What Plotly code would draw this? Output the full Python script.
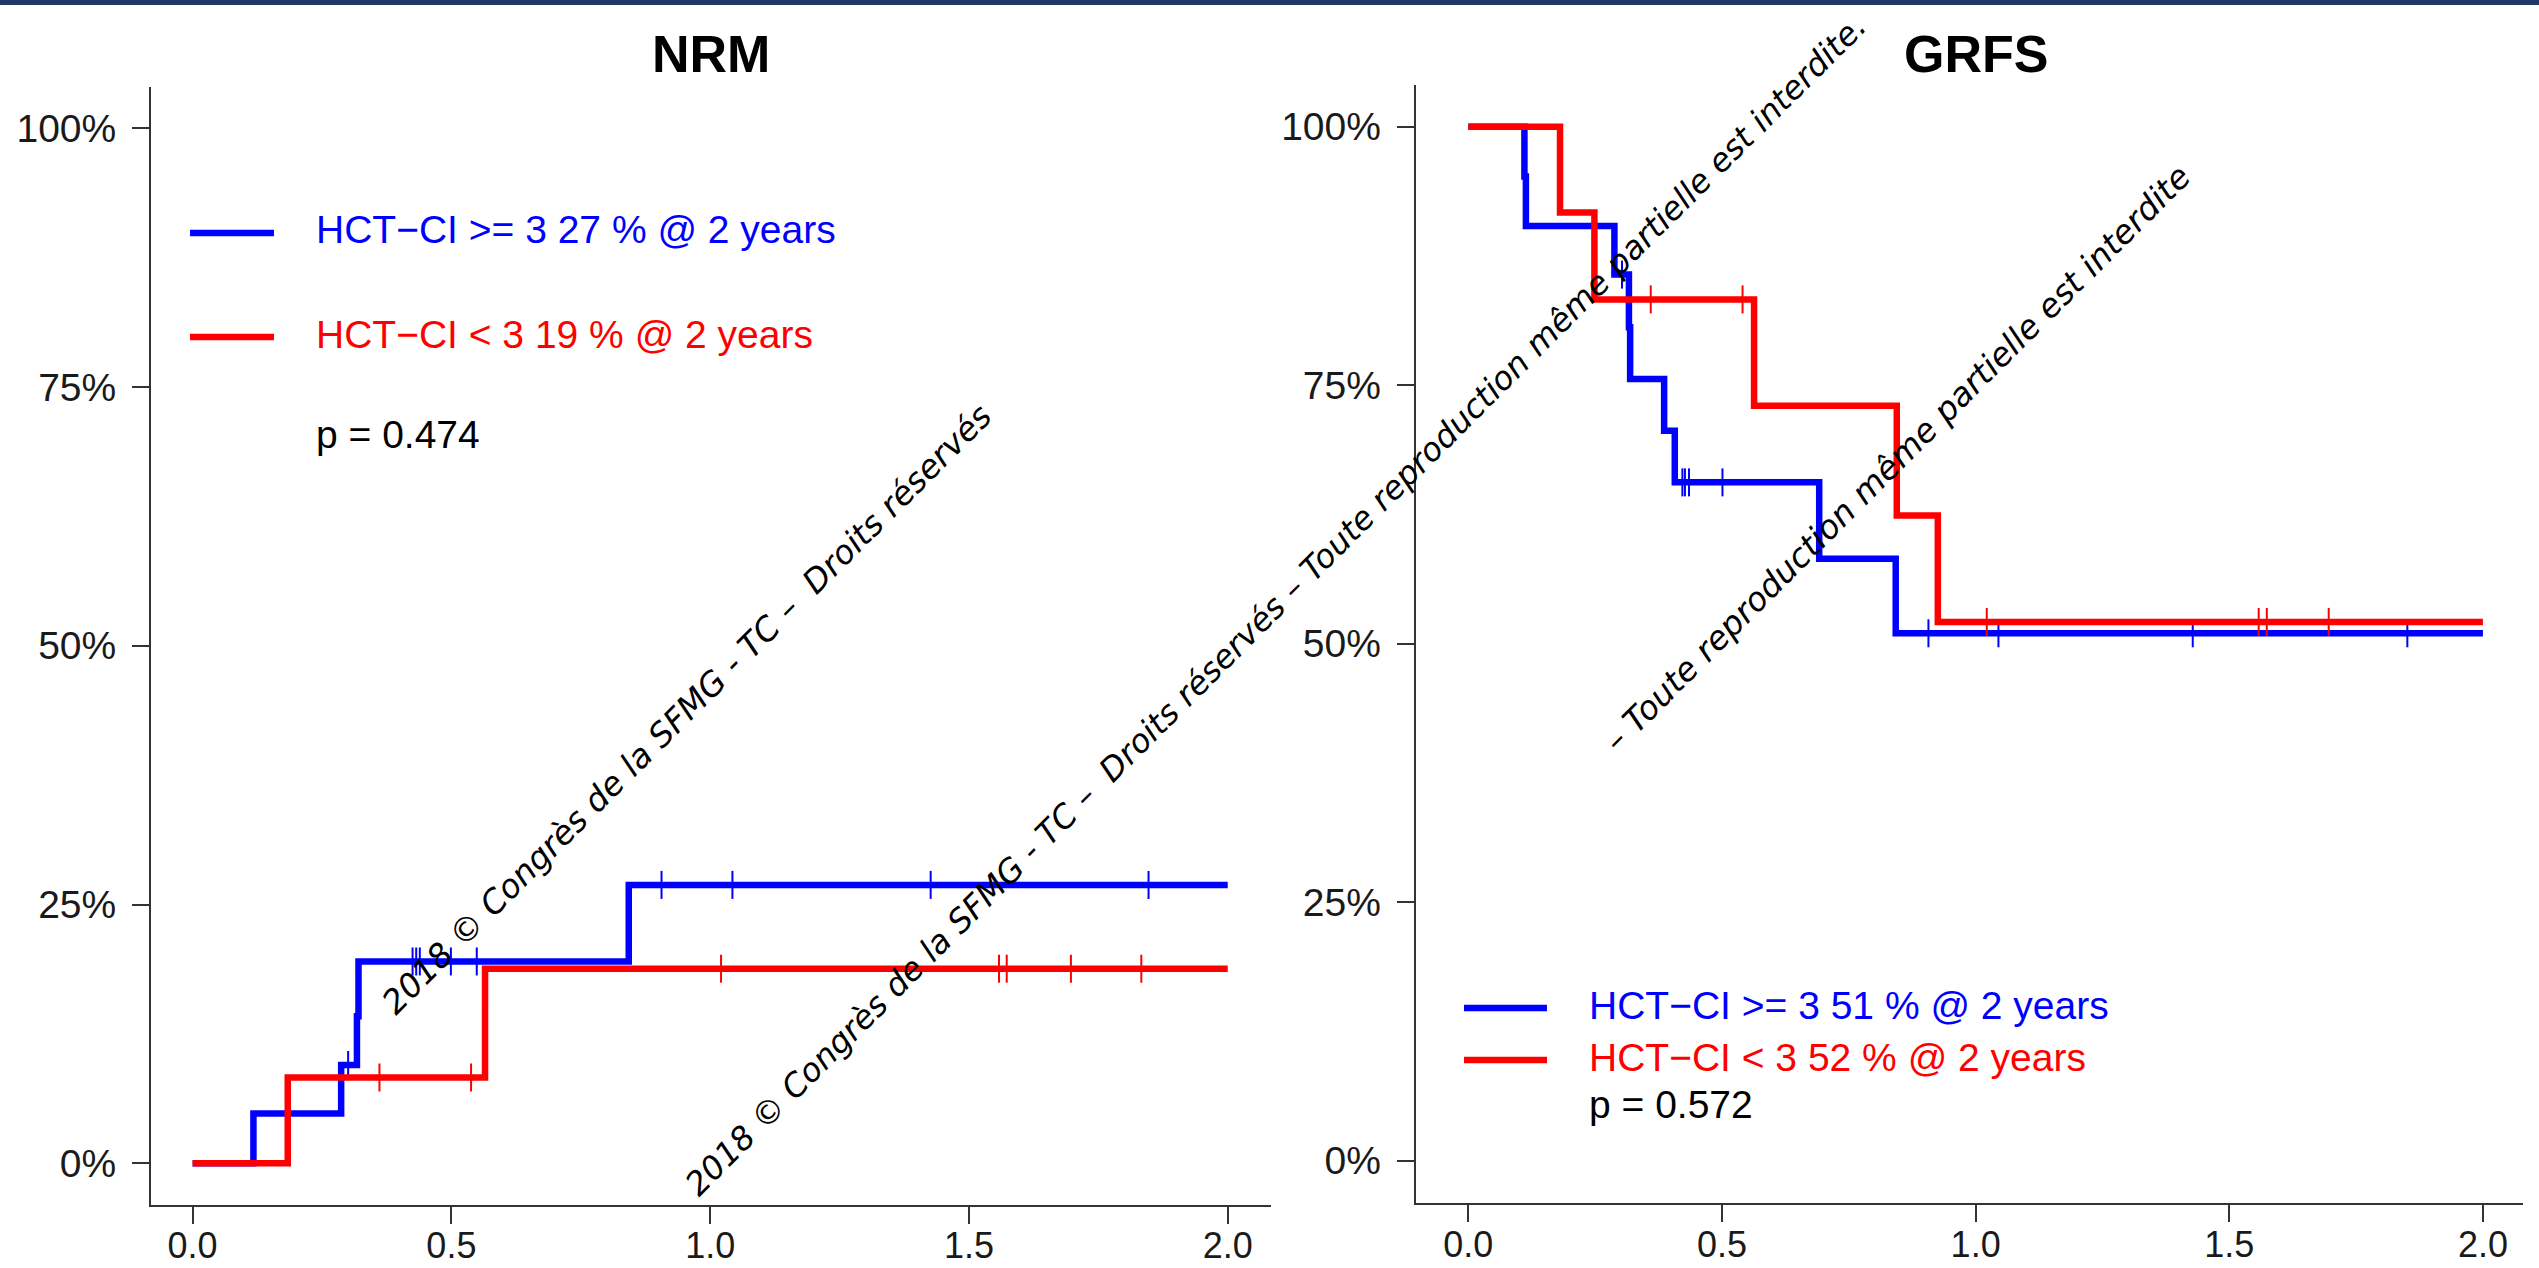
import plotly.graph_objects as go

W, H = 2539, 1268

# ---- NRM (cumulative incidence), by HCT-CI group ----
nrm_hi_time = [0.0, 0.1175, 0.287, 0.3175, 0.3205, 0.8427, 2.0]
nrm_hi_value = [0.0, 0.048, 0.095, 0.142, 0.195, 0.269, 0.269]
nrm_hi_censor = [0.3005, 0.425, 0.432, 0.439, 0.499, 0.549, 0.906, 1.043, 1.426, 1.847]

nrm_lo_time = [0.0, 0.1838, 0.565, 2.0]
nrm_lo_value = [0.0, 0.083, 0.188, 0.188]
nrm_lo_censor = [0.361, 0.538, 1.021, 1.558, 1.573, 1.697, 1.833]

# ---- GRFS (survival), by HCT-CI group ----
grfs_hi_time = [0.0, 0.1106, 0.1135, 0.288, 0.3166, 0.319, 0.386, 0.407, 0.6917, 0.8425, 2.0]
grfs_hi_value = [1.0, 0.952, 0.904, 0.857, 0.806, 0.756, 0.706, 0.656, 0.582, 0.510, 0.510]
grfs_hi_censor = [0.303, 0.422, 0.427, 0.435, 0.501, 0.907, 1.045, 1.428, 1.851]

grfs_lo_time = [0.0, 0.1808, 0.2486, 0.5633, 0.8446, 0.9255, 2.0]
grfs_lo_value = [1.0, 0.917, 0.833, 0.730, 0.624, 0.521, 0.521]
grfs_lo_censor = [0.3596, 0.5406, 1.022, 1.558, 1.574, 1.696]

x_ticks = [0, 0.5, 1.0, 1.5, 2.0]
x_tick_labels = ["0.0", "0.5", "1.0", "1.5", "2.0"]
y_ticks = [0, 0.25, 0.5, 0.75, 1.0]
y_tick_labels = ["0%", "25%", "50%", "75%", "100%"]

nrm_legend = ["HCT\u2212CI >= 3 27 % @ 2 years", "HCT\u2212CI < 3 19 % @ 2 years", "p = 0.474"]
grfs_legend = ["HCT\u2212CI >= 3 51 % @ 2 years", "HCT\u2212CI < 3 52 % @ 2 years", "p = 0.572"]

BLUE = "#0000ff"
RED = "#ff0000"
AXIS = "#333333"
FONT = "Liberation Sans, Arial, sans-serif"
MARK = "DejaVu Sans, Verdana, sans-serif"


def step_level(times, values, t):
    level = values[0]
    for ti, vi in zip(times, values):
        if ti <= t:
            level = vi
    return level


def px(x):
    return x / W


def py(y):
    return 1 - y / H


fig = go.Figure()


def add_curves(times, values, censor, color, xa, ya):
    fig.add_trace(go.Scatter(
        x=times, y=values, mode="lines", line=dict(color=color, width=6.5, shape="hv"),
        xaxis=xa, yaxis=ya, showlegend=False, hoverinfo="skip"))
    fig.add_trace(go.Scatter(
        x=censor, y=[step_level(times, values, t) for t in censor], mode="markers",
        marker=dict(symbol="line-ns", size=20, line=dict(color=color, width=2)),
        xaxis=xa, yaxis=ya, showlegend=False, hoverinfo="skip"))


add_curves(nrm_hi_time, nrm_hi_value, nrm_hi_censor, BLUE, "x", "y")
add_curves(nrm_lo_time, nrm_lo_value, nrm_lo_censor, RED, "x", "y")
add_curves(grfs_hi_time, grfs_hi_value, grfs_hi_censor, BLUE, "x2", "y2")
add_curves(grfs_lo_time, grfs_lo_value, grfs_lo_censor, RED, "x2", "y2")

axis_common = dict(
    showline=True, linecolor=AXIS, linewidth=2, ticks="outside", ticklen=17,
    tickwidth=2, tickcolor=AXIS, showgrid=False, zeroline=False, automargin=False,
    fixedrange=True,
)
x_font = dict(family=FONT, size=36, color="#1a1a1a")
y_font = dict(family=FONT, size=39, color="#1a1a1a")

fig.update_layout(
    width=W, height=H, margin=dict(l=0, r=0, t=0, b=0, pad=0),
    paper_bgcolor="white", plot_bgcolor="white",
    xaxis=dict(domain=[px(151), px(1270.7)], range=[-0.0804, 2.083], anchor="y",
               tickvals=x_ticks, ticktext=x_tick_labels, ticklabelstandoff=-9,
               tickfont=x_font, **axis_common),
    yaxis=dict(domain=[py(1204.7), py(86.9)], range=[-0.04, 1.04], anchor="x",
               tickvals=y_ticks, ticktext=y_tick_labels, ticklabelstandoff=8,
               tickfont=y_font, **axis_common),
    xaxis2=dict(domain=[px(1415.7), px(2523)], range=[-0.1037, 2.079], anchor="y2",
                tickvals=x_ticks, ticktext=x_tick_labels, ticklabelstandoff=-9,
                tickfont=x_font, **axis_common),
    yaxis2=dict(domain=[py(1203.3), py(85)], range=[-0.0414, 1.0404], anchor="x2",
                tickvals=y_ticks, ticktext=y_tick_labels, ticklabelstandoff=8,
                tickfont=y_font, **axis_common),
)

shapes = [
    # navy band along the top edge
    dict(type="rect", xref="paper", yref="paper", x0=0, x1=1, y0=py(5), y1=1,
         fillcolor="#1f3864", line=dict(width=0), layer="above"),
]
annotations = []

# panel titles
for text, cx in [("NRM", 711), ("GRFS", 1976)]:
    annotations.append(dict(text=f"<b>{text}</b>", x=px(cx), y=py(54), xref="paper", yref="paper",
                            xanchor="center", yanchor="middle", showarrow=False,
                            font=dict(family=FONT, size=52, color="black")))

# legend blocks: (labels, key x0, key x1, text x, [row y centres])
legend_blocks = [
    (nrm_legend, 190, 274, 314, [230, 334, 434]),
    (grfs_legend, 1464, 1547, 1587, [1005, 1057, 1104]),
]
for labels, k0, k1, tx, rows in legend_blocks:
    colors = [BLUE, RED, "black"]
    for i, (lab, col, ry) in enumerate(zip(labels, colors, rows)):
        if i < 2:
            shapes.append(dict(type="line", xref="paper", yref="paper", x0=px(k0), x1=px(k1),
                               y0=py(ry + 3), y1=py(ry + 3), line=dict(color=col, width=6.5)))
        annotations.append(dict(text=lab, x=px(tx), y=py(ry), xref="paper", yref="paper",
                                xanchor="left", yanchor="middle", showarrow=False,
                                font=dict(family=FONT, size=39, color=col)))

# diagonal copyright notices
notice_a = "2018 \u00a9 Congr\u00e8s de la SFMG - TC \u2013 \u00a0Droits r\u00e9serv\u00e9s"
notice_b = notice_a + " \u2013 Toute reproduction m\u00eame partielle est interdite."
notice_c = "\u2013 Toute reproduction m\u00eame partielle est interdite"
for text, cx, cy, fs in [(notice_a, 686, 709, 33), (notice_b, 1276, 605, 32.5),
                         (notice_c, 1897, 459, 33)]:
    annotations.append(dict(text=f"<i>{text}</i>", x=px(cx), y=py(cy), xref="paper", yref="paper",
                            xanchor="center", yanchor="middle", showarrow=False, textangle=-45,
                            font=dict(family=MARK, size=fs, color="black")))

fig.update_layout(shapes=shapes, annotations=annotations)

fig.write_html("out.html")
